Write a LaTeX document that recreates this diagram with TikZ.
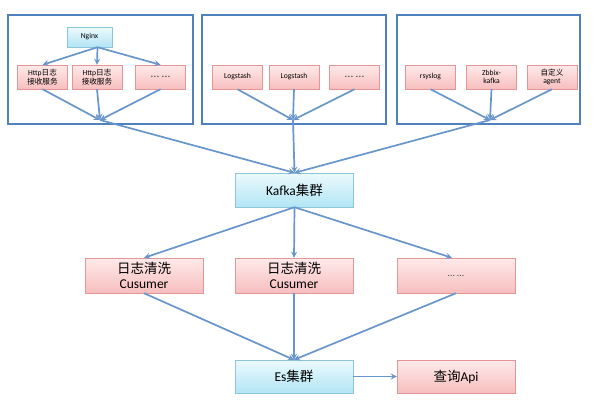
\documentclass[tikz,border=0pt]{standalone}
\usepackage{fontspec}
\setmainfont{Carlito}
\newfontfamily\cjkfont{Noto Sans CJK SC}
\newcommand{\zh}[1]{{\cjkfont #1}}
\usetikzlibrary{shadows}

\definecolor{frameblue}{RGB}{79,129,189}
\definecolor{lineblue}{RGB}{104,150,204}
\definecolor{pinktop}{RGB}{255,234,234}
\definecolor{pinkbot}{RGB}{247,190,190}
\definecolor{pinkline}{RGB}{226,150,150}
\definecolor{cyantop}{RGB}{236,250,254}
\definecolor{cyanbot}{RGB}{178,229,244}
\definecolor{cyanline}{RGB}{140,198,218}

\begin{document}
\begin{tikzpicture}[x=1pt, y=-1pt,
    frame/.style={draw=frameblue, line width=1.3pt},
    small/.style={draw=pinkline, top color=pinktop, bottom color=pinkbot,
                  minimum width=50pt, minimum height=24pt, inner sep=1pt,
                  align=center, font=\fontsize{7.6}{8.6}\selectfont,
                  drop shadow={opacity=0.2, shadow xshift=0.8pt, shadow yshift=-1pt}},
    pink/.style={draw=pinkline, top color=pinktop, bottom color=pinkbot,
                 minimum width=118pt, minimum height=35pt, inner sep=1pt,
                 align=center, font=\fontsize{13.5}{15}\selectfont,
                 drop shadow={opacity=0.2, shadow xshift=0.8pt, shadow yshift=-1pt}},
    cyanbox/.style={draw=cyanline, top color=cyantop, bottom color=cyanbot,
                    minimum width=118pt, minimum height=34pt, inner sep=1pt,
                    align=center, font=\fontsize{13.5}{15}\selectfont,
                    drop shadow={opacity=0.2, shadow xshift=0.8pt, shadow yshift=-1pt}},
    arrow/.style={->, >=stealth, line width=1.7pt, draw=lineblue},
    line/.style={line width=1.7pt, draw=lineblue}
]
\useasboundingbox (0,0) rectangle (598,418);

% --- three collector groups ---
\draw[frame] (8,15) rectangle (193,124);
\draw[frame] (202,15) rectangle (386,124);
\draw[frame] (397,15) rectangle (580,124);

% group 1: nginx + http receivers
\node[cyanbox, minimum width=45pt, minimum height=20pt,
      font=\fontsize{7.6}{8.6}\selectfont] (ngx) at (89.5,37) {Nginx};
\node[small] (http1) at (42.5,77) {Http\zh{日志}\\\zh{接收服务}};
\node[small] (http2) at (97,77) {Http\zh{日志}\\\zh{接收服务}};
\node[small] (httpx) at (160.5,77) {\textcolor{black!70}{\large … …}};
\coordinate (ngxout) at ([xshift=8pt]ngx.south);
\coordinate (g1) at (100,120);

\draw[arrow] (ngxout) -- (http1.north);
\draw[arrow] (ngxout) -- (http2.north);
\draw[arrow] (ngxout) -- (httpx.north);
\draw[arrow] (http1.south) -- (g1);
\draw[arrow] (http2.south) -- (g1);
\draw[arrow] (httpx.south) -- (g1);

% group 2: logstash
\node[small] (ls1) at (237.5,77) {Logstash};
\node[small] (ls2) at (294,77) {Logstash};
\node[small] (lsx) at (354.5,77) {\textcolor{black!70}{\large … …}};
\coordinate (g2) at (293,120);

\draw[arrow] (ls1.south) -- (g2);
\draw[arrow] (ls2.south) -- (g2);
\draw[arrow] (lsx.south) -- (g2);

% group 3: other agents
\node[small] (rsys) at (430.5,77) {rsyslog};
\node[small] (zbx) at (491.5,77) {Zbbix-\\kafka};
\node[small] (agent) at (552,77) {\zh{自定义}\\agent};
\coordinate (g3) at (490,120);

\draw[arrow] (rsys.south) -- (g3);
\draw[arrow] (zbx.south) -- (g3);
\draw[arrow] (agent.south) -- (g3);

% --- kafka ---
\node[cyanbox] (kafka) at (294.5,190) {Kafka\zh{集群}};

\draw[arrow] (g1) -- (kafka.north);
\draw[arrow] (g2) -- (kafka.north);
\draw[arrow] (g3) -- (kafka.north);

% --- consumers ---
\node[pink] (cus1) at (144,275.5) {\zh{日志清洗}\\Cusumer};
\node[pink] (cus2) at (294,275.5) {\zh{日志清洗}\\Cusumer};
\node[pink] (cusx) at (456,275.5) {\textcolor{black!70}{\normalsize … …}};

\draw[arrow] (kafka.south) -- (cus1.north);
\draw[arrow] (kafka.south) -- (cus2.north);
\draw[arrow] (kafka.south) -- ([xshift=-4pt]cusx.north);

% --- es + query api ---
\node[cyanbox, minimum height=33pt] (es) at (294,376.5) {Es\zh{集群}};
\node[pink, minimum height=33pt] (api) at (456,376.5) {\zh{查询}Api};

\draw[arrow] (cus1.south) -- (es.north);
\draw[arrow] (cus2.south) -- (es.north);
\draw[arrow] (cusx.south) -- (es.north);
\draw[arrow] (es.east) -- (api.west);

\end{tikzpicture}
\end{document}
